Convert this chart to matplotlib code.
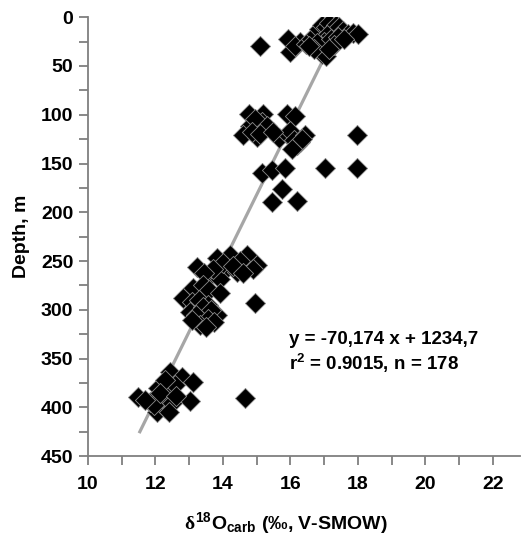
import matplotlib
matplotlib.use("Agg")
import matplotlib.pyplot as plt
import numpy as np

# d18O carb values (permil V-SMOW) and depth (m)
top_x = [15.10, 15.93, 16.30, 16.00, 16.15, 16.45, 16.60, 16.75, 16.85, 16.95, 17.05,
         17.15, 17.25, 17.35, 17.45, 17.55, 17.70, 17.85, 18.00, 17.10, 17.00, 16.90,
         16.95, 17.05, 16.80, 17.20, 17.40, 17.30, 16.70, 17.15, 17.60, 16.55]
top_d = [30, 22, 25, 36, 30, 27, 22, 17, 12, 8, 10,
         6, 12, 8, 10, 14, 17, 16, 17, 18, 25, 30,
         38, 40, 26, 22, 20, 28, 33, 33, 22, 30]

mid_x = [14.76, 15.20, 15.89, 16.14, 14.81, 15.15, 14.95, 15.30, 14.61, 15.00, 14.85,
         15.10, 15.65, 15.90, 15.99, 16.10, 16.19, 16.30, 16.44, 16.35, 17.97, 15.50,
         16.05, 15.15, 15.45, 15.85, 17.03, 17.97, 15.75, 15.45, 16.19]
mid_d = [99, 99, 99, 101, 111, 107, 104, 112, 121, 123, 118,
         120, 124, 120, 117, 126, 131, 128, 121, 125, 121, 118,
         135, 160, 157, 155, 155, 155, 176, 189, 188]

low_x = [14.71, 14.21, 13.82, 15.00, 14.50, 14.90, 13.22, 14.11, 14.41, 13.62, 13.92,
         14.00, 14.30, 14.60, 13.70, 13.45, 13.12, 13.40, 13.60, 13.92, 12.83, 13.10,
         13.30, 13.55, 14.96, 13.03, 13.42, 13.82, 13.65, 13.20, 13.57, 13.32, 13.10,
         13.75, 13.50]
low_d = [244, 244, 247, 254, 250, 258, 256, 257, 261, 264, 268,
         252, 255, 262, 258, 262, 278, 275, 280, 283, 288, 292,
         290, 295, 293, 302, 297, 305, 300, 305, 309, 316, 310,
         312, 318]

base_x = [11.49, 12.43, 12.78, 13.12, 13.03, 12.04, 12.28, 11.84, 12.09, 12.38, 12.58,
          12.20, 11.95, 12.50, 12.30, 12.15, 11.70, 12.60, 12.40, 14.66]
base_d = [389, 364, 369, 374, 393, 405, 401, 394, 380, 384, 377,
          390, 398, 395, 372, 385, 392, 388, 405, 390]

slope = -70.174
intercept = 1234.7
fit_x = [11.54, 17.3]

x = np.array(top_x + mid_x + low_x + base_x)
depth = np.array(top_d + mid_d + low_d + base_d)

plt.rcParams['font.family'] = ['Liberation Sans', 'DejaVu Sans']
plt.rcParams['font.weight'] = 'bold'
plt.rcParams['mathtext.fontset'] = 'custom'
plt.rcParams['mathtext.rm'] = 'Liberation Sans:bold'
plt.rcParams['mathtext.it'] = 'Liberation Serif'
plt.rcParams['mathtext.default'] = 'rm'

fig = plt.figure(figsize=(5.23, 5.38), dpi=100)
ax = fig.add_axes([0.168, 0.152, 0.826, 0.816])

fx = np.array(fit_x)
ax.plot(fx, slope * fx + intercept, color='#a6a6a6', lw=2.3, zorder=1)
ax.scatter(x, depth, marker='D', s=105, facecolor='black', edgecolor='#8a8a8a',
           linewidths=0.6, zorder=2)

ax.set_xlim(10, 22.8)
ax.set_ylim(450, 0)
ax.set_xticks(np.arange(10, 23, 2))
ax.set_xticks(np.arange(11, 23, 2), minor=True)
ax.set_yticks(np.arange(0, 451, 50))
ax.set_yticks(np.arange(25, 450, 50), minor=True)

for s in ['top', 'right']:
    ax.spines[s].set_visible(False)
for s in ['left', 'bottom']:
    ax.spines[s].set_color('#7f7f7f')
    ax.spines[s].set_linewidth(1.3)

ax.tick_params(which='both', direction='out', length=6.5, width=1.3, color='#7f7f7f')
ax.tick_params(which='major', labelsize=14, pad=4)
ax.tick_params(axis='x', which='major', pad=8)

ax.set_ylabel('Depth, m', fontsize=14, fontweight='bold')
ax.yaxis.set_label_coords(-0.135, 0.5)
ax.set_xlabel(r'$\mathit{\delta}^{18}$O$_{carb}$ (‰, V-SMOW)', fontsize=14,
              fontweight='bold')
ax.xaxis.set_label_coords(0.458, -0.122)

ax.text(15.95, 330, 'y = -70,174 x + 1234,7', fontsize=13.5, fontweight='bold',
        va='center', ha='left')
ax.text(15.95, 355, r'r$^2$ = 0.9015, n = 178', fontsize=13.5, fontweight='bold',
        va='center', ha='left')

fig.savefig('out.png', dpi=100)
